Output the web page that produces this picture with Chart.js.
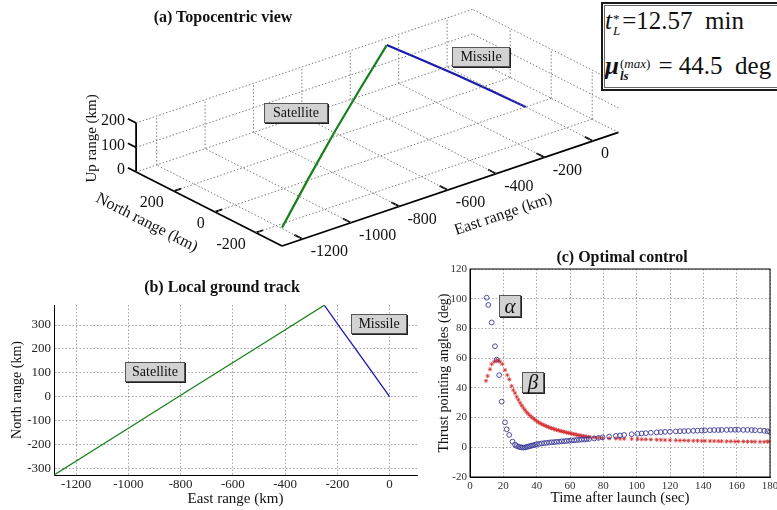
<!DOCTYPE html>
<html>
<head>
<meta charset="utf-8">
<script src="https://cdn.jsdelivr.net/npm/chart.js@4.4.1/dist/chart.umd.min.js"></script>
<style>
  html, body { margin: 0; padding: 0; background: #fff; }
  #fig { position: relative; width: 777px; height: 510px; overflow: hidden; font-family: "Liberation Serif", "DejaVu Serif", serif; color: #111; }
  canvas { position: absolute; }
  .title { position: absolute; font-weight: bold; font-size: 16px; transform: translate(-50%, -50%); white-space: nowrap; }
  .tag { position: absolute; display: flex; align-items: center; justify-content: center; box-sizing: border-box;
         font-family: "Liberation Serif", serif;
         background: #d2d2d2; border: 1px solid #555; box-shadow: 1px 1px 0 #222; font-size: 14px; white-space: nowrap; }
  .greek { font-style: italic; font-size: 21px; }
  #eq { position: absolute; left: 601px; top: 2px; width: 186px; height: 89px; border: 2px solid #1a1a1a; box-sizing: border-box; background: #fff;
        font-family: "Liberation Serif", serif; }
  #eq::after { content: ''; position: absolute; left: 1px; top: 1px; right: 1px; bottom: 1px; border: 1px solid #666; }
  .eqline { position: absolute; left: 2px; font-size: 25px; line-height: 28px; white-space: nowrap; }
  .ss { display: inline-block; vertical-align: -6px; font-size: 13px; line-height: 12px; margin: 0 2px 0 1px; }
  .ss > span { display: block; }
</style>
</head>
<body>
<div id="fig">
  <canvas id="topo" width="777" height="268" style="left:0;top:0"></canvas>
  <canvas id="track" width="425" height="215" style="left:0;top:295px"></canvas>
  <canvas id="control" width="352" height="255" style="left:425px;top:255px"></canvas>

  <div class="title" style="left:223px;top:17px">(a) Topocentric view</div>
  <div class="title" style="left:222px;top:287px">(b) Local ground track</div>
  <div class="title" style="left:622px;top:257px">(c) Optimal control</div>

  <div class="tag" style="left:264px;top:103px;width:64px;height:20px">Satellite</div>
  <div class="tag" style="left:452px;top:47px;width:58px;height:20px">Missile</div>
  <div class="tag" style="left:125px;top:362px;width:60px;height:20px">Satellite</div>
  <div class="tag" style="left:351px;top:314px;width:56px;height:20px">Missile</div>
  <div class="tag greek" style="left:499px;top:295px;width:22px;height:22px">α</div>
  <div class="tag greek" style="left:522px;top:372px;width:22px;height:21px">β</div>

  <div id="eq">
    <div class="eqline" style="top:3px"><i>t</i><span class="ss"><span>*</span><span><i>L</i></span></span>=12.57&nbsp; min</div>
    <div class="eqline" style="top:48px"><b><i>μ</i></b><span class="ss"><span>(<i>max</i>)</span><span><b><i>ls</i></b></span></span> = 44.5&nbsp; deg</div>
  </div>
</div>

<script>
const FONT = '"Liberation Serif", "DejaVu Serif", serif';
const GREEN = '#17801a';
const BLUE = '#1a1ab0';

// trajectories (km): east, north, up
const satEast  = [-1285, -1026, -768, -509, -250];
const satNorth = [-328, -150, 28, 205, 383];
const satUp    = [75, 112, 140, 160, 173];
const misEast  = [0, -62, -125, -188, -250];
const misNorth = [0, 96, 192, 287, 383];
const misUp    = [0, 46, 91, 133, 173];

// thrust pointing angles (deg) vs time after launch (sec)
const alphaTime = [10, 11, 13, 15, 16, 17.5, 19, 21, 22, 23.5, 25.5,
  27, 28, 29, 30, 31, 32, 33, 34, 35, 36, 37, 38, 39, 40,
  41.5, 43, 44.5, 46, 47.5, 49, 50.5, 52, 53.5, 55, 56.5, 58, 59.5, 61, 62.5, 64, 65.5, 67, 68.5, 70, 71.5,
  74.5, 77, 79.5, 83.5, 87.5, 90, 92.5, 97, 100.5, 103, 105.5, 108.5, 112, 114.5, 117, 120, 123.5, 126, 128.5, 131,
  134, 136.5, 139, 141, 144, 146.5, 149, 151, 154, 156.5, 159, 161, 164, 166.5, 169, 171, 174, 176.5, 178.5, 180];
const alpha = [100.7, 95.8, 84, 68, 59, 48.6, 30.7, 16.8, 12.1, 8.3, 3.8,
  1.8, 0.9, 0.4, 0.1, -0.1, -0.2, -0.1, 0.2, 0.5, 0.8, 1.1, 1.4, 1.7, 2.0,
  2.3, 2.6, 2.8, 3.0, 3.2, 3.4, 3.5, 3.7, 3.8, 4.0, 4.1, 4.3, 4.4, 4.6, 4.7, 4.9, 5.0, 5.2, 5.3, 5.5, 5.6,
  5.9, 6.3, 6.7, 7.2, 7.7, 8.0, 8.3, 8.8, 9.1, 9.3, 9.5, 9.8, 10.0, 10.2, 10.4, 10.5, 10.7, 10.8, 10.9, 11.0,
  11.1, 11.2, 11.3, 11.4, 11.5, 11.6, 11.6, 11.7, 11.7, 11.8, 11.8, 11.8, 11.7, 11.7, 11.6, 11.5, 11.3, 11.1, 10.8, 10.3];
const betaTime = [9.6, 10.6, 12, 13, 14.6, 16, 17, 18, 19.4, 21, 22.4, 23.6, 25, 26,
  27, 28, 29, 30, 31, 32, 33, 34, 35, 36, 37, 38, 39, 40, 41, 42, 43, 44, 45, 46, 47, 48, 49,
  50, 51, 52, 53, 54, 55, 56, 57, 58, 59, 60, 61, 62, 63, 64, 65, 66, 67, 68, 69, 70, 71, 72,
  74.5, 77, 79.5, 83.5, 87.5, 90, 92.5, 97, 100.5, 103, 105.5, 108.5, 112, 114.5, 117, 120, 123.5, 126, 128.5, 131,
  134, 136.5, 139, 141, 144, 146.5, 149, 151, 154, 156.5, 159, 161, 164, 166.5, 169, 171, 174, 176.5, 178.5, 180];
const beta = [44.8, 48, 52.5, 56, 57.6, 58.7, 58.2, 57.6, 56, 52, 48.6, 45.7, 41.2, 38.5,
  36.5, 34, 32, 30, 28.2, 26.5, 25, 23.6, 22.4, 21.3, 20.3, 19.4, 18.5, 17.7, 16.9, 16.2, 15.6, 15.1, 14.6, 14.1, 13.6, 13.2, 12.8,
  12.4, 12.0, 11.7, 11.4, 11.1, 10.8, 10.5, 10.2, 9.9, 9.7, 9.4, 9.2, 8.9, 8.7, 8.4, 8.2, 7.9, 7.7, 7.5, 7.3, 7.1, 6.9, 6.8,
  6.6, 6.4, 6.2, 6.0, 5.9, 5.8, 5.7, 5.6, 5.5, 5.4, 5.3, 5.2, 5.1, 5.0, 4.9, 4.8, 4.7, 4.6, 4.6, 4.5,
  4.4, 4.4, 4.3, 4.3, 4.2, 4.2, 4.1, 4.1, 4.0, 4.0, 3.9, 3.9, 3.9, 3.8, 3.8, 3.8, 3.7, 3.7, 3.8, 3.9];

// axis limits and ticks
const eastLim = [-1285, 105];
const northLim = [-328, 384];
const upLim = [0, 200];
const eastTicks = [-1200, -1000, -800, -600, -400, -200, 0];
const northTicks3d = [-200, 0, 200];
const upTicks = [0, 100, 200];
const northTicks = [-300, -200, -100, 0, 100, 200, 300];
const timeLim = [0, 180];
const angleLim = [-20, 120];
const timeTicks = [0, 20, 40, 60, 80, 100, 120, 140, 160, 180];
const angleTicks = [-20, 0, 20, 40, 60, 80, 100, 120];

// oblique view of the 3-D box: pixels per km along east, north, up
const view = { ox: 525.8, oy: 106.9, ex: 0.242, ey: -0.0817, nx: -0.205, ny: -0.104, uz: 0.245 };
function project(e, n, u) {
  return { x: view.ox + e * view.ex + n * view.nx, y: view.oy + e * view.ey + n * view.ny - u * view.uz };
}

const [E0, E1] = eastLim, [N0, N1] = northLim, [U0, U1] = upLim;
const gridStyle = { borderColor: '#707070', borderWidth: 0.9, borderDash: [1.5, 2] };
const axisStyle = { borderColor: '#000', borderWidth: 1.8 };
const seg = (a, b, style) => Object.assign({ data: [project(...a), project(...b)], showLine: true, pointRadius: 0 }, style);

const topoSets = [];
eastTicks.forEach(e => {
  topoSets.push(seg([e, N0, U0], [e, N1, U0], gridStyle));
  topoSets.push(seg([e, N1, U0], [e, N1, U1], gridStyle));
});
northTicks3d.forEach(n => {
  topoSets.push(seg([E0, n, U0], [E1, n, U0], gridStyle));
  topoSets.push(seg([E1, n, U0], [E1, n, U1], gridStyle));
});
upTicks.forEach(u => {
  topoSets.push(seg([E0, N1, u], [E1, N1, u], gridStyle));
  topoSets.push(seg([E1, N0, u], [E1, N1, u], gridStyle));
});
topoSets.push(seg([E0, N1, U0], [E0, N1, U1], axisStyle));
topoSets.push(seg([E0, N1, U0], [E0, N0, U0], axisStyle));
topoSets.push(seg([E0, N0, U0], [E1, N0, U0], axisStyle));
eastTicks.forEach(e => topoSets.push(seg([e, N0, U0], [e, N0 + 40, U0], axisStyle)));
northTicks3d.forEach(n => topoSets.push(seg([E0, n, U0], [E0 + 30, n, U0], axisStyle)));
upTicks.forEach(u => topoSets.push(seg([E0, N1, u], [E0, N1 + 40, u], axisStyle)));
topoSets.push({ data: satEast.map((e, i) => project(e, satNorth[i], satUp[i])), showLine: true, pointRadius: 0, borderColor: GREEN, borderWidth: 2.2 });
topoSets.push({ data: misEast.map((e, i) => project(e, misNorth[i], misUp[i])), showLine: true, pointRadius: 0, borderColor: BLUE, borderWidth: 2.2 });

// tick labels and axis names of the 3-D box
const topoText = {
  id: 'topoText',
  afterDraw(chart) {
    const { ctx, scales } = chart;
    const at = (e, n, u) => { const p = project(e, n, u); return [scales.x.getPixelForValue(p.x), scales.y.getPixelForValue(p.y)]; };
    ctx.save();
    ctx.fillStyle = '#111';
    ctx.textBaseline = 'middle';
    ctx.font = '16px ' + FONT;
    ctx.textAlign = 'left';
    eastTicks.forEach(v => { const [x, y] = at(v, N0, 0); ctx.fillText(String(v), x + 8, y + 13); });
    ctx.textAlign = 'right';
    northTicks3d.forEach(v => { const [x, y] = at(E0, v, 0); ctx.fillText(String(v), x - 10, y + 12); });
    upTicks.forEach(v => { const [x, y] = at(E0, N1, v); ctx.fillText(String(v), x - 11, y - 2); });

    const name = (text, anchor, dx, dy, angle, size) => {
      const [x, y] = at(...anchor);
      ctx.save();
      ctx.translate(x + dx, y + dy);
      ctx.rotate(angle);
      ctx.font = size + 'px ' + FONT;
      ctx.textAlign = 'center';
      ctx.fillText(text, 0, 0);
      ctx.restore();
    };
    name('Up range (km)', [E0, N1, 100], -44, -9, -Math.PI / 2, 15);
    name('North range (km)', [E0, 0, 0], -68, 11, Math.atan2(-view.ny, -view.nx), 16);
    name('East range (km)', [-400, N0, 0], 7, 41, Math.atan2(view.ey, view.ex), 16);
    ctx.restore();
  }
};

const frame = {
  id: 'frame',
  afterDraw(chart) {
    const { ctx, chartArea: { left, top, right, bottom } } = chart;
    ctx.save();
    ctx.strokeStyle = '#000';
    ctx.lineWidth = 1;
    ctx.strokeRect(left, top, right - left, bottom - top);
    ctx.restore();
  }
};

const quiet = { legend: { display: false }, tooltip: { enabled: false } };
const fixTicks = values => scale => { scale.ticks = values.map(v => ({ value: v })); };
const font = size => ({ family: FONT, size });

new Chart(document.getElementById('topo'), {
  type: 'scatter',
  data: { datasets: topoSets },
  options: {
    responsive: false, animation: false, events: [],
    layout: { padding: 0 },
    plugins: quiet,
    scales: {
      x: { type: 'linear', min: 0, max: 777, display: false },
      y: { type: 'linear', min: 0, max: 268, reverse: true, display: false }
    }
  },
  plugins: [topoText]
});

new Chart(document.getElementById('track'), {
  type: 'scatter',
  data: {
    datasets: [
      { data: satEast.map((e, i) => ({ x: e, y: satNorth[i] })), showLine: true, pointRadius: 0, borderColor: GREEN, borderWidth: 1.3 },
      { data: misEast.map((e, i) => ({ x: e, y: misNorth[i] })), showLine: true, pointRadius: 0, borderColor: BLUE, borderWidth: 1.3 }
    ]
  },
  options: {
    responsive: false, animation: false, events: [],
    layout: { padding: { left: 0, top: 10, right: 8, bottom: 0 } },
    plugins: quiet,
    scales: {
      x: {
        type: 'linear', min: eastLim[0], max: eastLim[1],
        afterBuildTicks: fixTicks(eastTicks),
        afterFit: s => { s.height = 35; s.paddingLeft = 0; s.paddingRight = 0; },
        ticks: { font: font(13), color: '#222', padding: 2, maxRotation: 0, autoSkip: false, callback: v => String(v) },
        grid: { color: '#8c8c8c', lineWidth: 0.8, drawTicks: false },
        border: { color: '#000', width: 1, dash: [1.5, 2] },
        title: { display: true, text: 'East range (km)', font: font(15), color: '#111', padding: { top: 0, bottom: 2 } }
      },
      y: {
        type: 'linear', min: northLim[0], max: northLim[1],
        afterBuildTicks: fixTicks(northTicks),
        afterFit: s => { s.width = 54; s.paddingTop = 0; s.paddingBottom = 0; },
        ticks: { font: font(13), color: '#222', padding: 3, autoSkip: false, callback: v => String(v) },
        grid: { color: '#8c8c8c', lineWidth: 0.8, drawTicks: false },
        border: { color: '#000', width: 1, dash: [1.5, 2] },
        title: { display: true, text: 'North range (km)', font: font(14), color: '#111', padding: { top: 9, bottom: 0 } }
      }
    }
  }
});

new Chart(document.getElementById('control'), {
  type: 'scatter',
  data: {
    datasets: [
      { data: alphaTime.map((t, i) => ({ x: t, y: alpha[i] })), pointStyle: 'circle', pointRadius: 2.4,
        borderColor: '#3c3c9a', backgroundColor: 'rgba(0,0,0,0)', borderWidth: 0.9 },
      { data: betaTime.map((t, i) => ({ x: t, y: beta[i] })), pointStyle: 'star', pointRadius: 2.1,
        borderColor: '#d43030', borderWidth: 0.8 }
    ]
  },
  options: {
    responsive: false, animation: false, events: [],
    layout: { padding: { left: 0, top: 14, right: 7, bottom: 0 } },
    plugins: quiet,
    scales: {
      x: {
        type: 'linear', min: timeLim[0], max: timeLim[1],
        afterBuildTicks: fixTicks(timeTicks),
        afterFit: s => { s.height = 33; s.paddingLeft = 0; s.paddingRight = 0; },
        ticks: { font: font(11), color: '#333', padding: 3, maxRotation: 0, autoSkip: false, callback: v => String(v) },
        grid: { color: '#909090', lineWidth: 0.8, drawTicks: false },
        border: { color: '#000', width: 1, dash: [1.5, 2] },
        title: { display: true, text: 'Time after launch (sec)', font: font(15), color: '#111', padding: { top: 0, bottom: 3 } }
      },
      y: {
        type: 'linear', min: angleLim[0], max: angleLim[1],
        afterBuildTicks: fixTicks(angleTicks),
        afterFit: s => { s.width = 45; s.paddingTop = 0; s.paddingBottom = 0; },
        ticks: { font: font(11), color: '#333', padding: 3, autoSkip: false, callback: v => String(v) },
        grid: { color: '#909090', lineWidth: 0.8, drawTicks: false },
        border: { color: '#000', width: 1, dash: [1.5, 2] },
        title: { display: true, text: 'Thrust pointing angles (deg)', font: font(14), color: '#111', padding: { top: 11, bottom: 0 } }
      }
    }
  },
  plugins: [frame]
});
</script>
</body>
</html>
